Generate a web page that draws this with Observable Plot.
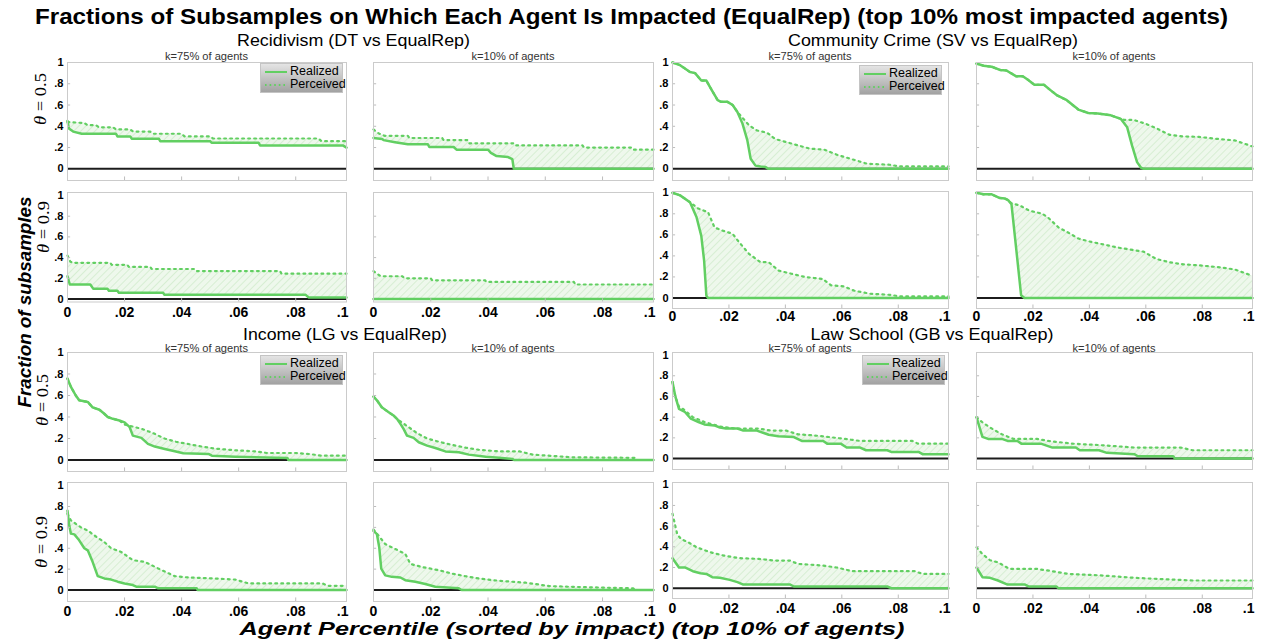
<!DOCTYPE html>
<html>
<head>
<meta charset="utf-8">
<script src="https://cdn.jsdelivr.net/npm/d3@7"></script>
<script src="https://cdn.jsdelivr.net/npm/@observablehq/plot@0.6"></script>
<style>
  html, body { margin: 0; padding: 0; background: #fff; }
  #root { position: relative; width: 1262px; height: 642px; overflow: hidden; background: #fff; font-family: "Liberation Sans", Arial, Helvetica, sans-serif; }
  .panel { position: absolute; }
  .panel g[aria-label="x-axis tick label"] { font-size: 14px; font-weight: bold; }
  .panel g[aria-label="y-axis tick label"] { font-size: 11px; font-weight: bold; }
  .legend { position: absolute; width: 83px; height: 30px; box-sizing: border-box;
            background: linear-gradient(to bottom, #e4e4e4, #a2a2a2); border: 1px solid #c4c4c4;
            font-size: 12.5px; color: #000; }
  .legend .row { position: absolute; left: 4px; height: 13px; line-height: 13px; white-space: nowrap; }
  .legend svg { vertical-align: middle; margin-right: 3px; }
</style>
</head>
<body>
<svg width="0" height="0" style="position:absolute">
  <defs>
    <pattern id="hatch" patternUnits="userSpaceOnUse" width="5" height="5" patternTransform="rotate(45)">
      <rect width="5" height="5" fill="#eef8ec"></rect>
      <line x1="0" y1="0" x2="0" y2="5" stroke="#cdebc9" stroke-width="1.4"></line>
    </pattern>
  </defs>
</svg>
<div id="root"></div>
<script>
// ---------------- data (x = agent percentile, y = fraction of subsamples) ----------------
const xTicks = [0, 0.02, 0.04, 0.06, 0.08];
const yTicks = [0, 0.2, 0.4, 0.6, 0.8, 1];
const xMaxTick = [0.0978];
const kLabels = ["k=75% of agents", "k=10% of agents"];
const thetaLabels = ["0.5", "0.9"];
const datasetTitles = ["Recidivism (DT vs EqualRep)", "Community Crime (SV vs EqualRep)", "Income (LG vs EqualRep)", "Law School (GB vs EqualRep)"];
const seriesNames = ["Realized", "Perceived"];

// Recidivism
const recidK75T05Realized = [[0,0.45],[0.0005,0.38],[0.002,0.35],[0.005,0.33],[0.017,0.33],[0.0175,0.305],[0.022,0.305],[0.0225,0.283],[0.032,0.283],[0.0325,0.26],[0.05,0.26],[0.0505,0.245],[0.067,0.245],[0.0675,0.22],[0.0965,0.22],[0.0978,0.2]];
const recidK75T05Perceived = [[0,0.44],[0.006,0.43],[0.007,0.41],[0.01,0.41],[0.011,0.39],[0.016,0.39],[0.017,0.37],[0.022,0.37],[0.023,0.35],[0.029,0.35],[0.03,0.33],[0.04,0.33],[0.041,0.305],[0.05,0.305],[0.051,0.285],[0.088,0.285],[0.089,0.26],[0.0978,0.26]];
const recidK10T05Realized = [[0,0.29],[0.003,0.28],[0.0035,0.27],[0.0075,0.25],[0.012,0.23],[0.019,0.23],[0.0195,0.205],[0.028,0.205],[0.029,0.18],[0.04,0.18],[0.041,0.15],[0.043,0.12],[0.047,0.11],[0.0485,0.09],[0.049,0],[0.0978,0]];
const recidK10T05Perceived = [[0,0.37],[0.002,0.33],[0.004,0.31],[0.012,0.31],[0.0125,0.29],[0.024,0.29],[0.0245,0.27],[0.033,0.27],[0.0335,0.24],[0.049,0.24],[0.0495,0.22],[0.073,0.22],[0.0735,0.2],[0.09,0.2],[0.0905,0.18],[0.0978,0.18]];
const recidK75T09Realized = [[0,0.22],[0.0008,0.14],[0.008,0.14],[0.009,0.1],[0.014,0.1],[0.0145,0.08],[0.0175,0.08],[0.018,0.06],[0.0335,0.06],[0.034,0.04],[0.0835,0.04],[0.0845,0.015],[0.0978,0.015]];
const recidK75T09Perceived = [[0,0.42],[0.001,0.36],[0.002,0.35],[0.015,0.35],[0.0155,0.33],[0.021,0.33],[0.0215,0.31],[0.029,0.31],[0.0295,0.29],[0.0445,0.29],[0.045,0.27],[0.0745,0.27],[0.075,0.245],[0.0978,0.245]];
const recidK10T09Realized = [[0,0],[0.0978,0]];
const recidK10T09Perceived = [[0,0.27],[0.0015,0.24],[0.0025,0.22],[0.01,0.22],[0.011,0.2],[0.02,0.2],[0.0205,0.18],[0.039,0.18],[0.0395,0.165],[0.07,0.165],[0.0705,0.14],[0.0978,0.14]];

// Community Crime
const crimeK75T05Realized = [[0,1],[0.0027,0.975],[0.0062,0.91],[0.008,0.9],[0.0102,0.83],[0.012,0.83],[0.0137,0.75],[0.016,0.645],[0.0172,0.63],[0.0195,0.63],[0.0213,0.6],[0.023,0.535],[0.0248,0.425],[0.0265,0.27],[0.0277,0.095],[0.0294,0.03],[0.0312,0.022],[0.033,0.016],[0.034,0],[0.0978,0]];
const crimeK75T05Perceived = [[0,1],[0.0027,0.975],[0.0062,0.91],[0.008,0.9],[0.0102,0.83],[0.012,0.83],[0.0137,0.75],[0.016,0.645],[0.0172,0.63],[0.0195,0.63],[0.0213,0.6],[0.023,0.535],[0.0248,0.48],[0.0271,0.41],[0.03,0.36],[0.0335,0.34],[0.0364,0.28],[0.0405,0.25],[0.0445,0.22],[0.0486,0.19],[0.0538,0.18],[0.0585,0.13],[0.063,0.095],[0.069,0.047],[0.077,0.038],[0.0805,0.022],[0.0978,0.022]];
const crimeK10T05Realized = [[0,0.99],[0.0025,0.97],[0.0054,0.96],[0.0083,0.93],[0.0106,0.925],[0.0141,0.87],[0.0164,0.87],[0.0181,0.84],[0.0205,0.79],[0.0239,0.79],[0.0262,0.74],[0.0286,0.69],[0.032,0.645],[0.0361,0.557],[0.0396,0.525],[0.043,0.52],[0.0476,0.503],[0.0511,0.47],[0.0534,0.39],[0.0551,0.22],[0.0569,0.063],[0.0583,0.01],[0.0592,0],[0.0978,0]];
const crimeK10T05Perceived = [[0,0.99],[0.0025,0.97],[0.0054,0.96],[0.0083,0.93],[0.0106,0.925],[0.0141,0.87],[0.0164,0.87],[0.0181,0.84],[0.0205,0.79],[0.0239,0.79],[0.0262,0.74],[0.0286,0.69],[0.032,0.645],[0.0361,0.557],[0.0396,0.525],[0.043,0.52],[0.0476,0.503],[0.0511,0.47],[0.0523,0.46],[0.0557,0.46],[0.0603,0.42],[0.0638,0.38],[0.0684,0.32],[0.0731,0.305],[0.0788,0.3],[0.0846,0.283],[0.0916,0.267],[0.0978,0.21]];
const crimeK75T09Realized = [[0,1],[0.0027,0.975],[0.0062,0.91],[0.0085,0.77],[0.0102,0.59],[0.0112,0.356],[0.012,0.022],[0.0126,0],[0.0978,0]];
const crimeK75T09Perceived = [[0,1],[0.0027,0.975],[0.0062,0.91],[0.0091,0.85],[0.0126,0.815],[0.0149,0.67],[0.0178,0.64],[0.0213,0.61],[0.0236,0.53],[0.0271,0.42],[0.0312,0.34],[0.0341,0.34],[0.0376,0.26],[0.0422,0.23],[0.0469,0.2],[0.0533,0.18],[0.0562,0.12],[0.0608,0.11],[0.0643,0.07],[0.0701,0.04],[0.0771,0.03],[0.0806,0.015],[0.0978,0.015]];
const crimeK10T09Realized = [[0,1],[0.0025,0.985],[0.0054,0.985],[0.0083,0.95],[0.0101,0.945],[0.0112,0.93],[0.0124,0.89],[0.0141,0.46],[0.0158,0.026],[0.017,0],[0.0978,0]];
const crimeK10T09Perceived = [[0,1],[0.0025,0.985],[0.0054,0.985],[0.0083,0.95],[0.0101,0.945],[0.0112,0.93],[0.0124,0.9],[0.0153,0.88],[0.0187,0.83],[0.0234,0.8],[0.0251,0.77],[0.0291,0.67],[0.0326,0.62],[0.0361,0.565],[0.0395,0.54],[0.0465,0.5],[0.0499,0.48],[0.0546,0.46],[0.0592,0.44],[0.0638,0.37],[0.0684,0.34],[0.0731,0.32],[0.0788,0.31],[0.0869,0.29],[0.0916,0.27],[0.0978,0.21]];

// Income
const incomeK75T05Realized = [[0,0.757],[0.0012,0.68],[0.0029,0.6],[0.0041,0.555],[0.0071,0.54],[0.0088,0.49],[0.0112,0.467],[0.0129,0.43],[0.0141,0.4],[0.0159,0.383],[0.0182,0.367],[0.02,0.35],[0.0218,0.305],[0.0229,0.227],[0.0259,0.206],[0.0282,0.15],[0.0306,0.125],[0.0341,0.103],[0.0376,0.081],[0.0406,0.062],[0.0494,0.056],[0.0506,0.04],[0.0588,0.031],[0.0771,0.019],[0.0774,0],[0.0978,0]];
const incomeK75T05Perceived = [[0,0.757],[0.0012,0.68],[0.0029,0.6],[0.0041,0.555],[0.0071,0.54],[0.0088,0.49],[0.0112,0.467],[0.0129,0.43],[0.0141,0.4],[0.0159,0.383],[0.0182,0.367],[0.02,0.33],[0.026,0.29],[0.03,0.25],[0.034,0.2],[0.038,0.17],[0.043,0.145],[0.047,0.125],[0.052,0.105],[0.059,0.09],[0.066,0.08],[0.07,0.065],[0.08,0.065],[0.085,0.055],[0.089,0.04],[0.0978,0.04]];
const incomeK10T05Realized = [[0,0.59],[0.0012,0.555],[0.0029,0.49],[0.0053,0.445],[0.007,0.414],[0.0082,0.383],[0.0094,0.336],[0.0105,0.29],[0.0117,0.227],[0.014,0.206],[0.0158,0.165],[0.0187,0.134],[0.0216,0.112],[0.0251,0.08],[0.0298,0.072],[0.0333,0.05],[0.0392,0.03],[0.0439,0.02],[0.0485,0.01],[0.0491,0],[0.0978,0]];
const incomeK10T05Perceived = [[0,0.59],[0.0012,0.555],[0.0029,0.49],[0.0053,0.445],[0.007,0.414],[0.0082,0.383],[0.0099,0.35],[0.0123,0.305],[0.0152,0.25],[0.0187,0.2],[0.0228,0.17],[0.0275,0.14],[0.0322,0.115],[0.0368,0.095],[0.044,0.08],[0.051,0.08],[0.0556,0.05],[0.0696,0.025],[0.0918,0.02],[0.092,0],[0.0978,0]];
const incomeK75T09Realized = [[0,0.76],[0.0006,0.62],[0.0012,0.54],[0.0024,0.533],[0.0041,0.476],[0.0059,0.4],[0.0071,0.38],[0.0088,0.27],[0.0106,0.133],[0.0129,0.111],[0.0153,0.1],[0.0176,0.08],[0.02,0.063],[0.0229,0.048],[0.0241,0.032],[0.0306,0.032],[0.0318,0.016],[0.0453,0.016],[0.0456,0],[0.0978,0]];
const incomeK75T09Perceived = [[0,0.73],[0.0012,0.667],[0.0047,0.6],[0.0071,0.57],[0.0106,0.5],[0.0129,0.46],[0.0153,0.4],[0.0188,0.365],[0.0229,0.286],[0.0271,0.27],[0.0318,0.206],[0.0376,0.133],[0.0424,0.12],[0.0518,0.11],[0.0588,0.1],[0.0635,0.063],[0.0894,0.063],[0.0912,0.04],[0.0978,0.04]];
const incomeK10T09Realized = [[0,0.566],[0.0012,0.535],[0.002,0.41],[0.0027,0.204],[0.0041,0.14],[0.0064,0.126],[0.0094,0.12],[0.0111,0.094],[0.0146,0.079],[0.0181,0.057],[0.0216,0.031],[0.0298,0.016],[0.0308,0],[0.0978,0]];
const incomeK10T09Perceived = [[0,0.58],[0.0018,0.52],[0.0041,0.44],[0.0076,0.393],[0.0111,0.346],[0.0129,0.25],[0.017,0.22],[0.0228,0.19],[0.0275,0.157],[0.0322,0.132],[0.0368,0.11],[0.0439,0.088],[0.0532,0.07],[0.0614,0.038],[0.0684,0.031],[0.0906,0.016],[0.0918,0],[0.0978,0]];

// Law School
const lawK75T05Realized = [[0,0.74],[0.001,0.6],[0.0023,0.48],[0.0044,0.45],[0.0065,0.385],[0.0092,0.353],[0.0113,0.33],[0.0148,0.32],[0.0168,0.3],[0.0189,0.29],[0.023,0.29],[0.0251,0.27],[0.0299,0.27],[0.0341,0.23],[0.0375,0.215],[0.043,0.208],[0.0458,0.17],[0.0534,0.17],[0.0548,0.144],[0.0596,0.144],[0.0617,0.106],[0.0665,0.106],[0.0686,0.08],[0.0761,0.08],[0.0775,0.064],[0.0872,0.064],[0.0886,0.042],[0.0978,0.042]];
const lawK75T05Perceived = [[0,0.74],[0.001,0.6],[0.0023,0.5],[0.0037,0.48],[0.0072,0.4],[0.0113,0.353],[0.0168,0.31],[0.0223,0.29],[0.0306,0.29],[0.0348,0.27],[0.0403,0.27],[0.0444,0.234],[0.0499,0.224],[0.0554,0.208],[0.061,0.19],[0.0665,0.17],[0.085,0.17],[0.087,0.144],[0.0978,0.144]];
const lawK10T05Realized = [[0,0.4],[0.0021,0.21],[0.0041,0.19],[0.009,0.19],[0.011,0.17],[0.0145,0.17],[0.0159,0.144],[0.0228,0.144],[0.0269,0.106],[0.0352,0.106],[0.0366,0.08],[0.0434,0.08],[0.0462,0.055],[0.0559,0.042],[0.0572,0.022],[0.0697,0.022],[0.0703,0],[0.0978,0]];
const lawK10T05Perceived = [[0,0.4],[0.0021,0.35],[0.0048,0.3],[0.009,0.234],[0.0131,0.19],[0.0214,0.19],[0.0255,0.17],[0.0338,0.144],[0.0448,0.128],[0.0559,0.106],[0.0724,0.106],[0.0766,0.08],[0.0978,0.08]];
const lawK75T09Realized = [[0,0.29],[0.0023,0.2],[0.0044,0.2],[0.0072,0.164],[0.0099,0.145],[0.012,0.138],[0.0141,0.106],[0.0168,0.1],[0.0203,0.08],[0.023,0.058],[0.0251,0.035],[0.0417,0.035],[0.043,0.016],[0.0761,0.016],[0.0775,0],[0.0978,0]];
const lawK75T09Perceived = [[0,0.72],[0.0017,0.52],[0.003,0.476],[0.0058,0.44],[0.0086,0.395],[0.0134,0.347],[0.0182,0.315],[0.0237,0.29],[0.0306,0.283],[0.0361,0.267],[0.0417,0.267],[0.0444,0.235],[0.0527,0.22],[0.0582,0.2],[0.0637,0.164],[0.0858,0.164],[0.0886,0.138],[0.0978,0.138]];
const lawK10T09Realized = [[0,0.2],[0.0021,0.106],[0.0048,0.1],[0.0076,0.074],[0.011,0.035],[0.0172,0.035],[0.0186,0.016],[0.0283,0.016],[0.029,0],[0.0978,0]];
const lawK10T09Perceived = [[0,0.395],[0.0021,0.33],[0.0048,0.27],[0.0076,0.25],[0.0117,0.186],[0.0214,0.186],[0.0269,0.164],[0.0324,0.138],[0.0448,0.122],[0.0559,0.1],[0.0766,0.074],[0.0978,0.074]];

// ---------------- layout ----------------
const GREEN = "#62cf62";
const colEdges = [[67,346],[373,653],[672,948],[976,1252]];
const leftRows  = [{t:62,b:180,d:[-0.11,1]},{t:192,b:301.5,d:[-0.029,1.029]},{t:352,b:471,d:[-0.107,1]},{t:482,b:601,d:[-0.11,1.03]}];
const rightRows = [{t:62,b:180,d:[-0.11,1]},{t:191,b:308,d:[-0.1,1.012]},{t:352,b:469,d:[-0.106,1.025]},{t:482,b:598,d:[-0.1,1.022]}];
const legendPos = {"0,0":[260,63],"2,0":[859,65],"0,2":[260,355],"2,2":[862,355]};

const panels = [
  [0,0,recidK75T05Realized,recidK75T05Perceived],[1,0,recidK10T05Realized,recidK10T05Perceived],
  [0,1,recidK75T09Realized,recidK75T09Perceived],[1,1,recidK10T09Realized,recidK10T09Perceived],
  [2,0,crimeK75T05Realized,crimeK75T05Perceived],[3,0,crimeK10T05Realized,crimeK10T05Perceived],
  [2,1,crimeK75T09Realized,crimeK75T09Perceived],[3,1,crimeK10T09Realized,crimeK10T09Perceived],
  [0,2,incomeK75T05Realized,incomeK75T05Perceived],[1,2,incomeK10T05Realized,incomeK10T05Perceived],
  [0,3,incomeK75T09Realized,incomeK75T09Perceived],[1,3,incomeK10T09Realized,incomeK10T09Perceived],
  [2,2,lawK75T05Realized,lawK75T05Perceived],[3,2,lawK10T05Realized,lawK10T05Perceived],
  [2,3,lawK75T09Realized,lawK75T09Perceived],[3,3,lawK10T09Realized,lawK10T09Perceived]
];

const root = document.getElementById("root");
const ML = 34, MR = 8, MT = 4, MB = 28;
const fmtY = v => v === 0 ? "0" : v === 1 ? "1" : String(+v.toFixed(1)).replace(/^0/, "");
const fmtX = v => v === 0 ? "0" : v > 0.09 ? ".1" : "." + String(Math.round(v * 100)).padStart(2, "0");
const px = d => d[0], py = d => d[1];

for (const [col, row, real, perc] of panels) {
  const [fl, fr] = colEdges[col];
  const R = (col < 2 ? leftRows : rightRows)[row];
  const fw = fr - fl, fh = R.b - R.t;
  const dom = R.d;
  const span = dom[1] - dom[0];
  const pad = (col >= 2 && row === 1) ? 3 : 5;
  const marks = [
    Plot.areaY(perc, {x: px, y1: 0, y2: py, fill: "url(#hatch)"}),
    Plot.areaY(real, {x: px, y1: 0, y2: py, fill: "white"}),
    Plot.ruleY([0], {stroke: "#1c1c1c", strokeWidth: 2}),
    Plot.line(perc, {x: px, y: py, stroke: GREEN, strokeWidth: 2.2, strokeDasharray: "1.8,4.2"}),
    Plot.line(real, {x: px, y: py, stroke: GREEN, strokeWidth: 2.5}),
    Plot.ruleX(xTicks.slice(1), {y1: dom[0], y2: dom[0] + span * 0.03, stroke: "#bdbdbd"}),
    Plot.ruleY(yTicks.slice(1, 5), {x1: 0, x2: 0.0011, stroke: "#bdbdbd"}),
    Plot.frame({stroke: "#cbcbcb"})
  ];
  if (col === 0 || col === 2) {
    marks.push(Plot.axisY(yTicks, {tickSize: 0, tickPadding: 4, tickFormat: fmtY, fontSize: 11, fontWeight: "bold", fill: "#000"}));
  }
  if (row === 1 || row === 3) {
    marks.push(Plot.axisX(xTicks, {tickSize: 0, tickPadding: pad, tickFormat: fmtX, fontSize: 14, fontWeight: "bold", fill: "#000"}));
    marks.push(Plot.axisX(xMaxTick, {tickSize: 0, tickPadding: pad, tickFormat: fmtX, fontSize: 14, fontWeight: "bold", fill: "#000", textAnchor: "end", dx: 2}));
  }
  const svg = Plot.plot({
    width: fw + ML + MR, height: fh + MT + MB,
    marginLeft: ML, marginRight: MR, marginTop: MT, marginBottom: MB,
    x: {domain: [0, xMaxTick[0]], axis: null},
    y: {domain: dom, axis: null},
    style: {background: "transparent", fontFamily: "'Liberation Sans', Arial, Helvetica, sans-serif", color: "#000", overflow: "visible"},
    marks
  });
  svg.classList.add("panel");
  svg.style.left = (fl - ML) + "px";
  svg.style.top = (R.t - MT) + "px";
  root.appendChild(svg);

  const lp = legendPos[col + "," + row];
  if (lp) {
    const lg = document.createElement("div");
    lg.className = "legend";
    lg.style.left = lp[0] + "px";
    lg.style.top = lp[1] + "px";
    lg.innerHTML =
      `<div class="row" style="top:1px"><svg width="22" height="8"><line x1="0" y1="4" x2="22" y2="4" stroke="${GREEN}" stroke-width="2"/></svg>${seriesNames[0]}</div>` +
      `<div class="row" style="top:14px"><svg width="22" height="8"><line x1="0" y1="4" x2="22" y2="4" stroke="${GREEN}" stroke-width="2" stroke-dasharray="1.6,3"/></svg>${seriesNames[1]}</div>`;
    root.appendChild(lg);
  }
}

// ---------------- titles & labels ----------------
const NS = "http://www.w3.org/2000/svg";
const ov = document.createElementNS(NS, "svg");
ov.setAttribute("width", 1262); ov.setAttribute("height", 642);
ov.style.position = "absolute"; ov.style.left = "0"; ov.style.top = "0"; ov.style.pointerEvents = "none";
ov.style.fontFamily = "'Liberation Sans', Arial, Helvetica, sans-serif";
root.appendChild(ov);
function addText(str, attrs, html) {
  const t = document.createElementNS(NS, "text");
  for (const k in attrs) t.setAttribute(k, attrs[k]);
  if (html) t.innerHTML = html; else t.textContent = str;
  ov.appendChild(t);
  return t;
}
addText("Fractions of Subsamples on Which Each Agent Is Impacted (EqualRep) (top 10% most impacted agents)",
  {x: 631.5, y: 24, "text-anchor": "middle", "font-size": 22, "font-weight": "bold", textLength: 1193, lengthAdjust: "spacingAndGlyphs"});
const subtitlePos = [[353.5,46,233],[933,46,290],[345,340,204],[932,340,243]];
datasetTitles.forEach((s, i) => addText(s, {x: subtitlePos[i][0], y: subtitlePos[i][1], "text-anchor": "middle", "font-size": 16.5, textLength: subtitlePos[i][2], lengthAdjust: "spacingAndGlyphs"}));
for (const ky of [59.5, 351.5]) {
  colEdges.forEach(([l, r], c) => addText(kLabels[c % 2], {x: (l + r) / 2, y: ky, "text-anchor": "middle", "font-size": 10, fill: "#333", textLength: 83, lengthAdjust: "spacingAndGlyphs"}));
}
addText("Fraction of subsamples", {transform: "translate(31,302) rotate(-90)", "text-anchor": "middle", "font-size": 19, "font-weight": "bold", "font-style": "italic", textLength: 211, lengthAdjust: "spacingAndGlyphs"});
addText("Agent Percentile (sorted by impact) (top 10% of agents)", {x: 572, y: 635, "text-anchor": "middle", "font-size": 19, "font-weight": "bold", "font-style": "italic", textLength: 665, lengthAdjust: "spacingAndGlyphs"});
const thetaPos = [[46, 99], [49, 227], [48, 400], [47, 542]];
thetaPos.forEach(([bx, cy], i) => addText(null, {transform: `translate(${bx},${cy}) rotate(-90)`, "text-anchor": "middle", "font-size": 17, "font-family": "'Liberation Serif', 'Times New Roman', serif", textLength: 52, lengthAdjust: "spacingAndGlyphs"},
  `<tspan font-style="italic">θ</tspan> = ${thetaLabels[i % 2]}`));
</script>
</body>
</html>
